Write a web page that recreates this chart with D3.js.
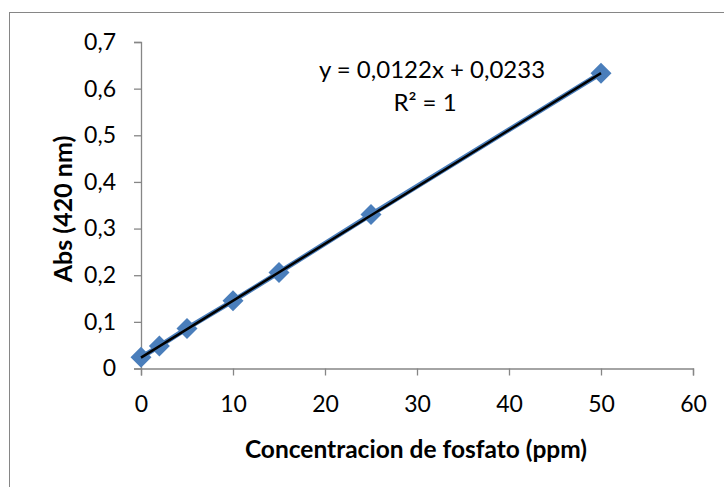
<!DOCTYPE html>
<html>
<head>
  <meta charset="utf-8">
  <script src="https://d3js.org/d3.v7.min.js"></script>
  <style>
    body { margin: 0; background: #fff; font-family: Lato, sans-serif; }
  </style>
</head>
<body>
<script>
  // data
  var concentracion = [0, 2, 5, 10, 15, 25, 50];
  var absorbancia = [0.024, 0.048, 0.086, 0.145, 0.206, 0.330, 0.633];
  var xTicks = [0, 10, 20, 30, 40, 50, 60];
  var yTicks = [0, 0.1, 0.2, 0.3, 0.4, 0.5, 0.6, 0.7];
  var pendiente = 0.0122, intercepto = 0.0233;

  var width = 724, height = 487;
  var svg = d3.select("body").append("svg")
      .attr("width", width)
      .attr("height", height);

  // chart frame
  svg.append("rect")
      .attr("x", 9.5).attr("y", 12.5)
      .attr("width", 720).attr("height", 480)
      .attr("fill", "none")
      .attr("stroke", "#868686");

  var x = d3.scaleLinear().domain([0, 60]).range([141, 693]);
  var y = d3.scaleLinear().domain([0, 0.7]).range([368.5, 42]);

  var fmt = function(d) { return d3.format(".1f")(d).replace(".", ","); };

  // y axis
  var yAxis = svg.append("g")
      .attr("transform", "translate(" + x(0) + ",0)")
      .call(d3.axisLeft(y).tickValues(yTicks).tickSize(7).tickPadding(18)
        .tickFormat(function(d) { return d === 0 ? "0" : fmt(d); }));

  // x axis
  var xAxis = svg.append("g")
      .attr("transform", "translate(0," + y(0) + ")")
      .call(d3.axisBottom(x).tickValues(xTicks).tickSize(7).tickPadding(20));

  [xAxis, yAxis].forEach(function(a) {
    a.select(".domain").attr("stroke", "#868686").attr("stroke-width", 1.3);
    a.selectAll(".tick line").attr("stroke", "#868686").attr("stroke-width", 1.3);
    a.selectAll(".tick text")
      .attr("fill", "#000")
      .style("font-family", "Lato, sans-serif")
      .style("font-size", "23px");
  });

  // series line (blue)
  var line = d3.line()
      .x(function(d, i) { return x(concentracion[i]); })
      .y(function(d) { return y(d); });

  svg.append("path")
      .datum(absorbancia)
      .attr("d", line)
      .attr("fill", "none")
      .attr("stroke", "#4a7ebb")
      .attr("stroke-width", 5);

  // markers
  svg.selectAll(".punto")
      .data(absorbancia)
      .enter().append("path")
      .attr("class", "punto")
      .attr("transform", function(d, i) { return "translate(" + x(concentracion[i]) + "," + y(d) + ")"; })
      .attr("d", "M0,-10.5L10.5,0L0,10.5L-10.5,0Z")
      .attr("fill", "#4a7ebb");

  // linear trendline
  var x0 = concentracion[0], x1 = concentracion[concentracion.length - 1];
  svg.append("line")
      .attr("x1", x(x0)).attr("y1", y(pendiente * x0 + intercepto))
      .attr("x2", x(x1)).attr("y2", y(pendiente * x1 + intercepto))
      .attr("stroke", "#000")
      .attr("stroke-width", 2.5);

  // equation
  svg.append("text")
      .attr("x", 432).attr("y", 78)
      .attr("text-anchor", "middle")
      .style("font-size", "24px")
      .text("y = 0,0122x + 0,0233");
  svg.append("text")
      .attr("x", 425).attr("y", 111)
      .attr("text-anchor", "middle")
      .style("font-size", "24px")
      .text("R² = 1");

  // axis titles
  svg.append("text")
      .attr("x", 416).attr("y", 458)
      .attr("text-anchor", "middle")
      .style("font-size", "24.5px")
      .style("font-weight", "bold")
      .text("Concentracion de fosfato (ppm)");

  svg.append("text")
      .attr("transform", "translate(72,209) rotate(-90)")
      .attr("text-anchor", "middle")
      .style("font-size", "25px")
      .style("font-weight", "bold")
      .text("Abs (420 nm)");
</script>
</body>
</html>
